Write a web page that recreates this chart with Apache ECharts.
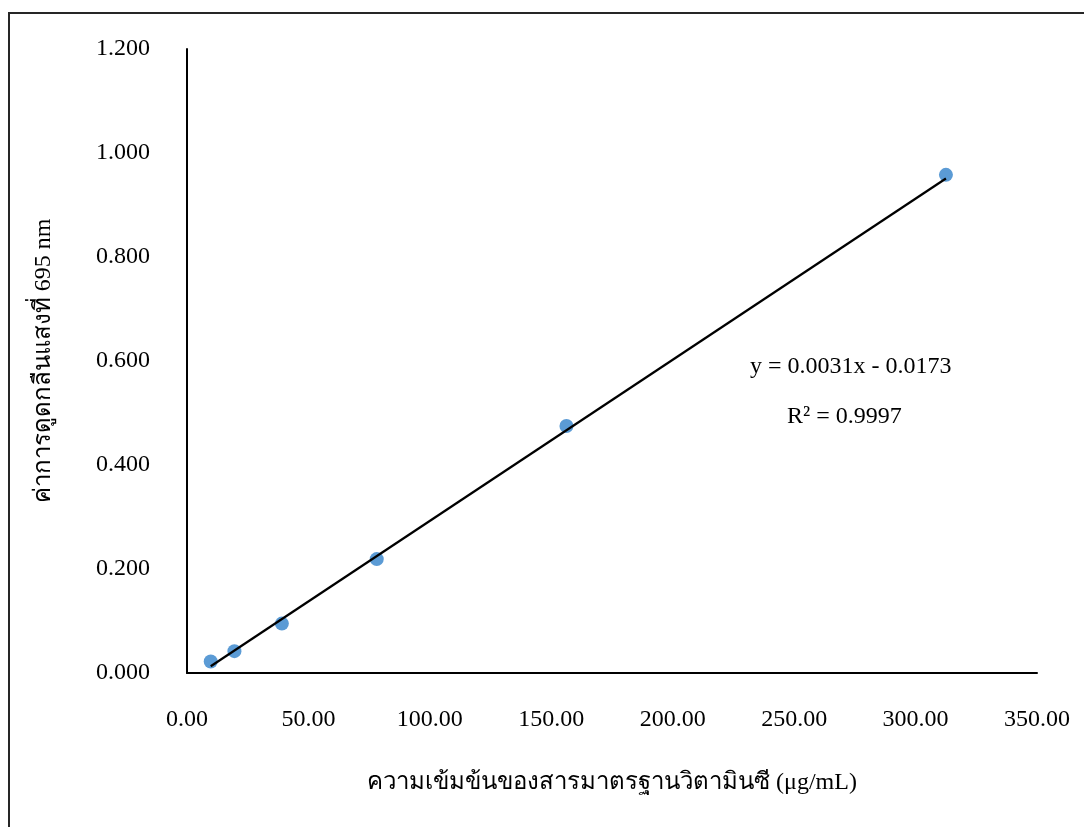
<!DOCTYPE html>
<html>
<head>
<meta charset="utf-8">
<script src="https://cdn.jsdelivr.net/npm/echarts@6/dist/echarts.min.js"></script>
<style>
  html, body { margin: 0; padding: 0; background: #fff; }
  #main { width: 1084px; height: 827px; }
</style>
</head>
<body>
<div id="main"></div>
<script>
// ความเข้มข้น (μg/mL) และค่าการดูดกลืนแสง
var concX = [9.77, 19.53, 39.06, 78.13, 156.25, 312.5];
var absY = [0.022, 0.042, 0.095, 0.219, 0.475, 0.958];

// จุดปลายเส้นแนวโน้ม (อ่านจากกราฟ)
var trendX = [9.77, 312.5];
var trendY = [0.013, 0.951];

var xTicks = ['0.00', '50.00', '100.00', '150.00', '200.00', '250.00', '300.00', '350.00'];

var FONT = "'Liberation Serif', 'Times New Roman', serif";

var chart = echarts.init(document.getElementById('main'));

var option = {
  animation: false,
  backgroundColor: '#fff',
  grid: { left: 187, right: 47, top: 49, bottom: 154 },
  textStyle: { fontFamily: FONT },
  xAxis: {
    type: 'value',
    min: 0, max: 350, interval: 50,
    name: 'ความเข้มข้นของสารมาตรฐานวิตามินซี (μg/mL)',
    nameLocation: 'middle',
    nameGap: 98,
    nameTextStyle: { fontFamily: FONT, fontSize: 24, color: '#000' },
    axisLine: { show: true, lineStyle: { color: '#000', width: 2 } },
    axisTick: { show: false },
    splitLine: { show: false },
    axisLabel: {
      margin: 35, fontFamily: FONT, fontSize: 24, color: '#000',
      formatter: function (v) { return xTicks[Math.round(v / 50)]; }
    }
  },
  yAxis: {
    type: 'value',
    min: 0, max: 1.2, interval: 0.2,
    name: 'ค่าการดูดกลืนแสงที่ 695 nm',
    nameLocation: 'middle',
    nameGap: 131,
    nameTextStyle: { fontFamily: FONT, fontSize: 24, color: '#000' },
    axisLine: { show: true, onZero: false, lineStyle: { color: '#000', width: 2 } },
    axisTick: { show: false },
    splitLine: { show: false },
    axisLabel: {
      margin: 37, fontFamily: FONT, fontSize: 24, color: '#000',
      formatter: function (v) { return v.toFixed(3); }
    }
  },
  graphic: [
    {
      type: 'rect', silent: true, z: -1,
      shape: { x: 9, y: 13, width: 1200, height: 900 },
      style: { fill: null, stroke: '#262626', lineWidth: 2 }
    },
    {
      type: 'text', left: 750, top: 355,
      style: { text: 'y = 0.0031x - 0.0173', font: '24px ' + FONT, fill: '#000' }
    },
    {
      type: 'text', left: 787, top: 405,
      style: { text: 'R² = 0.9997', font: '24px ' + FONT, fill: '#000' }
    }
  ],
  series: [
    {
      name: 'ค่าการดูดกลืนแสง',
      type: 'scatter',
      symbolSize: 14,
      itemStyle: { color: '#5B9BD5', opacity: 1 },
      data: concX.map(function (x, i) { return [x, absY[i]]; }),
      z: 2
    },
    {
      name: 'เส้นแนวโน้ม',
      type: 'line',
      showSymbol: false,
      symbol: 'none',
      lineStyle: { color: '#000', width: 2.2 },
      data: trendX.map(function (x, i) { return [x, trendY[i]]; }),
      z: 3
    }
  ]
};
chart.setOption(option);
</script>
</body>
</html>
